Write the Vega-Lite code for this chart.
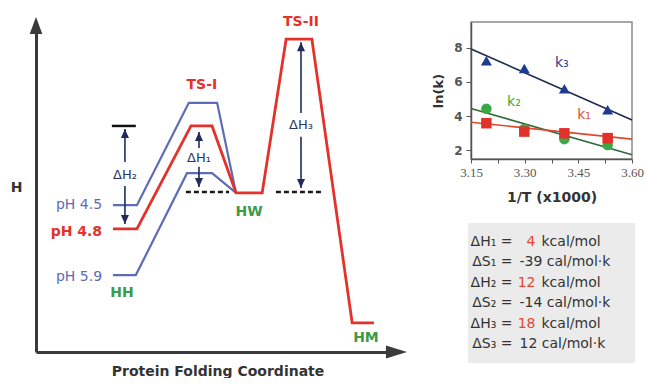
{
  "$schema": "https://vega.github.io/schema/vega-lite/v6.json",
  "padding": {"left": 10, "top": 15, "right": 0, "bottom": 0},
  "background": "white",
  "config": {"font": "DejaVu Sans", "view": {"stroke": null}},
  "datasets": {
    "profiles": [
      {"series": "pH 4.5", "step": 1, "coord": 21.2, "H": 44.5},
      {"series": "pH 4.5", "step": 2, "coord": 27.8, "H": 44.5},
      {"series": "pH 4.5", "step": 3, "coord": 42.1, "H": 75.5},
      {"series": "pH 4.5", "step": 4, "coord": 49.9, "H": 75.5},
      {"series": "pH 4.5", "step": 5, "coord": 55.1, "H": 48.2},
      {"series": "pH 5.9", "step": 1, "coord": 21.2, "H": 23.3},
      {"series": "pH 5.9", "step": 2, "coord": 27.5, "H": 23.3},
      {"series": "pH 5.9", "step": 3, "coord": 41.6, "H": 54.2},
      {"series": "pH 5.9", "step": 4, "coord": 48.5, "H": 54.2},
      {"series": "pH 5.9", "step": 5, "coord": 55.1, "H": 48.2},
      {"series": "pH 4.8", "step": 1, "coord": 21.2, "H": 37.3},
      {"series": "pH 4.8", "step": 2, "coord": 27.8, "H": 37.3},
      {"series": "pH 4.8", "step": 3, "coord": 42.7, "H": 68.5},
      {"series": "pH 4.8", "step": 4, "coord": 48.5, "H": 68.5},
      {"series": "pH 4.8", "step": 5, "coord": 55.1, "H": 48.2},
      {"series": "pH 4.8", "step": 6, "coord": 62.3, "H": 48.2},
      {"series": "pH 4.8", "step": 7, "coord": 68.9, "H": 94.8},
      {"series": "pH 4.8", "step": 8, "coord": 76.0, "H": 94.8},
      {"series": "pH 4.8", "step": 9, "coord": 87.1, "H": 8.8},
      {"series": "pH 4.8", "step": 10, "coord": 93.1, "H": 8.8}
    ],
    "guides": [
      {"coord": 41.3, "coord2": 53.2, "H": 48.5},
      {"coord": 66.1, "coord2": 78.5, "H": 48.5}
    ],
    "caps": [
      {"coord": 20.9, "coord2": 27.5, "H": 68.5}
    ],
    "shafts": [
      {"coord": 24.5, "H": 67.6, "H2": 57.6},
      {"coord": 24.5, "H": 50.3, "H2": 38.8},
      {"coord": 44.9, "H": 66.7, "H2": 61.8},
      {"coord": 44.9, "H": 56.1, "H2": 50.0},
      {"coord": 73.0, "H": 93.9, "H2": 72.4},
      {"coord": 73.0, "H": 65.2, "H2": 49.7}
    ],
    "tips": [
      {"coord": 24.5, "H": 67.6, "dir": "up"},
      {"coord": 24.5, "H": 38.8, "dir": "down"},
      {"coord": 44.9, "H": 66.7, "dir": "up"},
      {"coord": 44.9, "H": 50.0, "dir": "down"},
      {"coord": 73.0, "H": 93.9, "dir": "up"},
      {"coord": 73.0, "H": 49.7, "dir": "down"}
    ],
    "axisTips": [
      {"coord": 0, "H": 100, "axis": "H"},
      {"coord": 100, "H": 0, "axis": "coordinate"}
    ],
    "states": [
      {"coord": 45.7, "H": 80.9, "label": "TS-I", "kind": "transition"},
      {"coord": 73.0, "H": 100, "label": "TS-II", "kind": "transition"},
      {"coord": 58.7, "H": 42.4, "label": "HW", "kind": "minimum"},
      {"coord": 23.7, "H": 17.9, "label": "HH", "kind": "minimum"},
      {"coord": 90.9, "H": 4.2, "label": "HM", "kind": "minimum"}
    ],
    "phLabels": [
      {"coord": 18.2, "H": 44.5, "label": "pH 4.5", "series": "pH 4.5"},
      {"coord": 18.2, "H": 36.4, "label": "pH 4.8", "series": "pH 4.8"},
      {"coord": 18.2, "H": 22.7, "label": "pH 5.9", "series": "pH 5.9"}
    ],
    "dhLabels": [
      {"coord": 24.5, "H": 53.6, "label": "ΔH₂"},
      {"coord": 44.9, "H": 58.8, "label": "ΔH₁"},
      {"coord": 73.0, "H": 68.8, "label": "ΔH₃"}
    ],
    "rates": [
      {"invT": 3.193, "lnk": 7.24, "rate": "k3"},
      {"invT": 3.299, "lnk": 6.78, "rate": "k3"},
      {"invT": 3.411, "lnk": 5.6, "rate": "k3"},
      {"invT": 3.532, "lnk": 4.37, "rate": "k3"},
      {"invT": 3.193, "lnk": 4.43, "rate": "k2"},
      {"invT": 3.299, "lnk": 3.25, "rate": "k2"},
      {"invT": 3.411, "lnk": 2.66, "rate": "k2"},
      {"invT": 3.532, "lnk": 2.31, "rate": "k2"},
      {"invT": 3.193, "lnk": 3.59, "rate": "k1"},
      {"invT": 3.299, "lnk": 3.1, "rate": "k1"},
      {"invT": 3.411, "lnk": 3.0, "rate": "k1"},
      {"invT": 3.532, "lnk": 2.72, "rate": "k1"}
    ],
    "fits": [
      {"invT": 3.15, "lnk": 7.92, "rate": "k3"},
      {"invT": 3.6, "lnk": 3.78, "rate": "k3"},
      {"invT": 3.15, "lnk": 4.45, "rate": "k2"},
      {"invT": 3.6, "lnk": 1.75, "rate": "k2"},
      {"invT": 3.15, "lnk": 3.65, "rate": "k1"},
      {"invT": 3.6, "lnk": 2.66, "rate": "k1"}
    ],
    "rateLabels": [
      {"invT": 3.404, "lnk": 7.11, "label": "k₃", "rate": "k3"},
      {"invT": 3.27, "lnk": 4.83, "label": "k₂", "rate": "k2"},
      {"invT": 3.466, "lnk": 4.07, "label": "k₁", "rate": "k1"}
    ],
    "summary": [
      {"row": 1, "lhs": "ΔH₁ =", "num": "4", "rest": "kcal/mol"},
      {"row": 2, "lhs": "ΔS₁ =", "num": "", "rest": "-39 cal/mol·k"},
      {"row": 3, "lhs": "ΔH₂ =", "num": "12", "rest": "kcal/mol"},
      {"row": 4, "lhs": "ΔS₂ =", "num": "", "rest": "-14 cal/mol·k"},
      {"row": 5, "lhs": "ΔH₃ =", "num": "18", "rest": "kcal/mol"},
      {"row": 6, "lhs": "ΔS₃ =", "num": "", "rest": "12 cal/mol·k"}
    ]
  },
  "spacing": 69,
  "bounds": "flush",
  "resolve": {"scale": {"color": "independent", "shape": "independent"}},
  "hconcat": [
    {
      "width": 363,
      "height": 330,
      "view": {"stroke": null},
      "encoding": {
        "x": {
          "field": "coord", "type": "quantitative",
          "scale": {"domain": [0, 100], "nice": false, "zero": false},
          "axis": {
            "title": "Protein Folding Coordinate", "ticks": false, "labels": false, "grid": false,
            "domainColor": "#3a3a3a", "domainWidth": 3, "minExtent": 0,
            "titleFontSize": 14, "titleFontWeight": "bold", "titleColor": "#333", "titlePadding": 12
          }
        },
        "y": {
          "field": "H", "type": "quantitative",
          "scale": {"domain": [0, 100], "nice": false, "zero": false},
          "axis": {
            "title": "H", "ticks": false, "labels": false, "grid": false,
            "domainColor": "#3a3a3a", "domainWidth": 3, "minExtent": 0,
            "titleFontSize": 14, "titleFontWeight": "bold", "titleColor": "#333",
            "titleAngle": 0, "titleAlign": "right", "titleBaseline": "middle", "titlePadding": 14
          }
        }
      },
      "layer": [
        {
          "data": {"name": "profiles"},
          "transform": [{"filter": "datum.series != 'pH 4.8'"}],
          "mark": {"type": "line", "color": "#5c6cb6", "strokeWidth": 2.2},
          "encoding": {"detail": {"field": "series"}, "order": {"field": "step", "type": "quantitative"}}
        },
        {
          "data": {"name": "profiles"},
          "transform": [{"filter": "datum.series == 'pH 4.8'"}],
          "mark": {"type": "line", "color": "#e4322b", "strokeWidth": 2.8},
          "encoding": {"order": {"field": "step", "type": "quantitative"}}
        },
        {
          "data": {"name": "guides"},
          "mark": {"type": "rule", "color": "#1a1a1a", "strokeWidth": 2.6, "strokeDash": [5, 3]},
          "encoding": {"x2": {"field": "coord2"}}
        },
        {
          "data": {"name": "caps"},
          "mark": {"type": "rule", "color": "#111", "strokeWidth": 2.5},
          "encoding": {"x2": {"field": "coord2"}}
        },
        {
          "data": {"name": "shafts"},
          "mark": {"type": "rule", "color": "#1f2c5c", "strokeWidth": 1.6},
          "encoding": {"y2": {"field": "H2"}}
        },
        {
          "data": {"name": "tips"},
          "transform": [{"filter": "datum.dir == 'up'"}],
          "mark": {"type": "point", "shape": "M0,0L0.8,1.8L-0.8,1.8Z", "filled": true, "opacity": 1, "color": "#1f2c5c", "size": 100, "strokeWidth": 0}
        },
        {
          "data": {"name": "tips"},
          "transform": [{"filter": "datum.dir == 'down'"}],
          "mark": {"type": "point", "shape": "M0,0L0.8,-1.8L-0.8,-1.8Z", "filled": true, "opacity": 1, "color": "#1f2c5c", "size": 100, "strokeWidth": 0}
        },
        {
          "data": {"name": "axisTips"},
          "transform": [{"filter": "datum.axis == 'H'"}],
          "mark": {"type": "point", "shape": "M0,-0.33L0.42,0.8L-0.42,0.8Z", "filled": true, "opacity": 1, "color": "#3a3a3a", "size": 900, "strokeWidth": 0, "clip": false}
        },
        {
          "data": {"name": "axisTips"},
          "transform": [{"filter": "datum.axis == 'coordinate'"}],
          "mark": {"type": "point", "shape": "M0.53,0L-0.87,-0.43L-0.87,0.43Z", "filled": true, "opacity": 1, "color": "#3a3a3a", "size": 900, "strokeWidth": 0, "clip": false}
        },
        {
          "data": {"name": "states"},
          "mark": {"type": "text", "fontSize": 14, "fontWeight": "bold", "baseline": "middle"},
          "encoding": {
            "text": {"field": "label"},
            "color": {"field": "kind", "type": "nominal", "legend": null,
              "scale": {"domain": ["transition", "minimum"], "range": ["#e4322b", "#3d9a45"]}}
          }
        },
        {
          "data": {"name": "phLabels"},
          "transform": [{"filter": "datum.series != 'pH 4.8'"}],
          "mark": {"type": "text", "fontSize": 14, "align": "right", "baseline": "middle", "color": "#5c6cb6"},
          "encoding": {"text": {"field": "label"}}
        },
        {
          "data": {"name": "phLabels"},
          "transform": [{"filter": "datum.series == 'pH 4.8'"}],
          "mark": {"type": "text", "fontSize": 14, "fontWeight": "bold", "align": "right", "baseline": "middle", "color": "#e4322b"},
          "encoding": {"text": {"field": "label"}}
        },
        {
          "data": {"name": "dhLabels"},
          "mark": {"type": "text", "fontSize": 13, "baseline": "middle", "color": "#2a3560"},
          "encoding": {"text": {"field": "label"}}
        }
      ]
    },
    {
      "spacing": 64,
      "bounds": "flush",
      "center": true,
      "resolve": {"scale": {"color": "independent", "shape": "independent"}},
      "vconcat": [
        {
          "width": 161,
          "height": 137,
          "view": {"stroke": "#8a8a8a", "strokeWidth": 1.5},
          "encoding": {
            "x": {
              "field": "invT", "type": "quantitative",
              "scale": {"domain": [3.15, 3.6], "nice": false, "zero": false},
              "axis": {
                "title": "1/T (x1000)", "grid": false,
                "values": [3.15, 3.225, 3.3, 3.375, 3.45, 3.525, 3.6],
                "labelExpr": "indexof(['3.15','3.30','3.45','3.60'], format(datum.value, '.2f')) >= 0 ? format(datum.value, '.2f') : ''",
                "labelFont": "Liberation Serif", "labelFontSize": 13, "labelColor": "#555",
                "labelFlush": false, "labelOverlap": false, "labelPadding": 3,
                "tickSize": 4, "tickColor": "#555", "domainColor": "#555", "domainWidth": 1.5,
                "titleFontSize": 14, "titleFontWeight": "bold", "titleColor": "#333", "titlePadding": 11
              }
            },
            "y": {
              "field": "lnk", "type": "quantitative",
              "scale": {"domain": [1.5, 9.5], "nice": false, "zero": false},
              "axis": {
                "title": "ln(k)", "grid": false, "values": [2, 4, 6, 8],
                "labelFontSize": 12, "labelFontWeight": "bold", "labelColor": "#555", "labelPadding": 4,
                "tickSize": 5, "tickColor": "#555", "domainColor": "#555", "domainWidth": 1.5,
                "titleFontSize": 13, "titleFontWeight": "bold", "titleColor": "#333", "titlePadding": 8
              }
            }
          },
          "layer": [
            {
              "data": {"name": "fits"},
              "mark": {"type": "line", "strokeWidth": 1.6},
              "encoding": {
                "color": {"field": "rate", "type": "nominal", "legend": null,
                  "scale": {"domain": ["k1", "k2", "k3"], "range": ["#db4a2e", "#2e6b39", "#1c2a55"]}}
              }
            },
            {
              "data": {"name": "rates"},
              "transform": [{"filter": "datum.rate == 'k2'"}],
              "mark": {"type": "point", "shape": "circle", "filled": true, "opacity": 1, "size": 110, "color": "#3aa845"}
            },
            {
              "data": {"name": "rates"},
              "transform": [{"filter": "datum.rate == 'k1'"}],
              "mark": {"type": "point", "shape": "square", "filled": true, "opacity": 1, "size": 110, "color": "#e2302b"}
            },
            {
              "data": {"name": "rates"},
              "transform": [{"filter": "datum.rate == 'k3'"}],
              "mark": {"type": "point", "shape": "triangle-up", "filled": true, "opacity": 1, "size": 120, "color": "#1d3b8f"}
            },
            {
              "data": {"name": "rateLabels"},
              "mark": {"type": "text", "fontSize": 14, "baseline": "middle"},
              "encoding": {
                "text": {"field": "label"},
                "color": {"field": "rate", "type": "nominal", "legend": null,
                  "scale": {"domain": ["k1", "k2", "k3"], "range": ["#e0503e", "#3aa845", "#2b3d8c"]}}
              }
            }
          ],
          "resolve": {"scale": {"color": "independent"}}
        },
        {
          "width": 167,
          "height": 140,
          "view": {"fill": "#ebebeb", "stroke": null},
          "data": {"name": "summary"},
          "encoding": {
            "y": {"field": "row", "type": "ordinal", "axis": null, "scale": {"padding": 0.9}}
          },
          "layer": [
            {
              "mark": {"type": "text", "align": "right", "baseline": "middle", "dx": -39, "fontSize": 14, "color": "#333"},
              "encoding": {"text": {"field": "lhs"}}
            },
            {
              "transform": [{"filter": "datum.num == ''"}],
              "mark": {"type": "text", "align": "left", "baseline": "middle", "dx": -32, "fontSize": 14, "color": "#333"},
              "encoding": {"text": {"field": "rest"}}
            },
            {
              "transform": [{"filter": "datum.num != ''"}],
              "mark": {"type": "text", "align": "right", "baseline": "middle", "dx": -16, "fontSize": 14, "color": "#e8452c"},
              "encoding": {"text": {"field": "num"}}
            },
            {
              "transform": [{"filter": "datum.num != ''"}],
              "mark": {"type": "text", "align": "left", "baseline": "middle", "dx": -10, "fontSize": 14, "color": "#333"},
              "encoding": {"text": {"field": "rest"}}
            }
          ]
        }
      ]
    }
  ]
}
